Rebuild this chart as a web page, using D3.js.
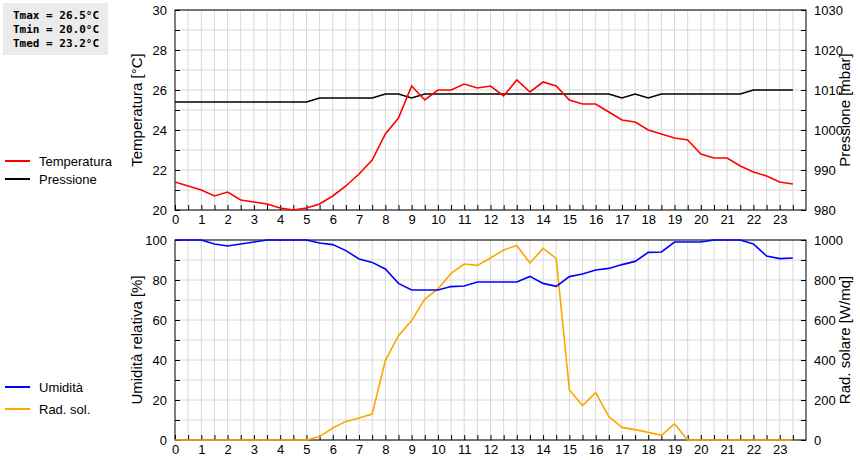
<!DOCTYPE html>
<html><head><meta charset="utf-8">
<script src="https://cdn.jsdelivr.net/npm/d3@7"></script>
<style>body{margin:0;background:#fff}svg{display:block}</style>
</head><body><svg id="c" width="860" height="460"></svg>
<script>
const hours = d3.range(0, 24, 0.5);
const temperatura = [21.4,21.2,21.0,20.7,20.9,20.5,20.4,20.3,20.1,20.0,20.1,20.3,20.7,21.2,21.8,22.5,23.8,24.6,26.2,25.5,26.0,26.0,26.3,26.1,26.2,25.7,26.5,25.9,26.4,26.2,25.5,25.3,25.3,24.9,24.5,24.4,24.0,23.8,23.6,23.5,22.8,22.6,22.6,22.2,21.9,21.7,21.4,21.3];
const pressione = [1007,1007,1007,1007,1007,1007,1007,1007,1007,1007,1007,1008,1008,1008,1008,1008,1009,1009,1008,1009,1009,1009,1009,1009,1009,1009,1009,1009,1009,1009,1009,1009,1009,1009,1008,1009,1008,1009,1009,1009,1009,1009,1009,1009,1010,1010,1010,1010];
const umidita = [100,100,100,98,97,98,99,100,100,100,100,98.5,97.7,94.7,90.5,88.8,85.5,78.3,75,75,75,76.7,77,79,79,79,79,81.8,78.3,76.8,81.7,83,85,85.8,87.7,89.3,93.8,94,99,99,99,100,100,100,98,92,90.7,91];
const radsol = [0,0,0,0,0,0,0,0,0,0,0,17,60,93,110,130,397,522,597,705,755,833,880,873,910,950,973,885,958,908,250,172,237,117,63,52,38,23,80,0,0,0,0,0,0,0,0,0];
const xTicks = d3.range(0, 24);
const statLines = ["Tmax = 26.5°C","Tmin = 20.0°C","Tmed = 23.2°C"];

const svg = d3.select("#c");
const L = 175, R = 806;
const x = d3.scaleLinear().domain([0, 24]).range([L, R]);
const font = "Arial, 'Liberation Sans', sans-serif";

function panel(top, bot, yl, yr, lTicks, rTicks, lMinor, rMinor, lTitle, rTitle, series) {
  const g = svg.append("g");
  g.selectAll(".vg").data(d3.range(0.5, 24, 0.5)).join("line")
    .attr("x1", d => x(d)).attr("x2", d => x(d)).attr("y1", top).attr("y2", bot)
    .attr("stroke", "#d8d8d8");
  g.selectAll(".hg").data(lMinor).join("line")
    .attr("x1", L).attr("x2", R).attr("y1", d => yl(d)).attr("y2", d => yl(d))
    .attr("stroke", "#d8d8d8");
  const ax = g.append("g").attr("transform", `translate(0,${bot})`)
    .call(d3.axisBottom(x).tickValues(d3.range(0, 24, 0.5)).tickSize(5).tickFormat(d => Number.isInteger(d) ? d : ""));
  const al = g.append("g").attr("transform", `translate(${L},0)`)
    .call(d3.axisLeft(yl).tickValues(lMinor).tickSize(5).tickFormat(d => lTicks.includes(d) ? d : ""));
  const ar = g.append("g").attr("transform", `translate(${R},0)`)
    .call(d3.axisRight(yr).tickValues(rMinor).tickSize(5).tickFormat(d => rTicks.includes(d) ? d : ""));
  [ax, al, ar].forEach(a => {
    a.selectAll("text").attr("font-family", font).attr("font-size", 13).attr("fill", "#000");
    a.select(".domain").remove();
  });
  ax.selectAll("line").attr("y2", -5);
  al.selectAll("line").attr("x2", 5);
  ar.selectAll("line").attr("x2", -5);
  ax.selectAll("text").attr("dy", "0.75em").attr("y", 4);
  g.append("rect").attr("x", L).attr("y", top).attr("width", R - L).attr("height", bot - top)
    .attr("fill", "none").attr("stroke", "#000");
  series.forEach(s => {
    g.append("path").datum(s.data)
      .attr("d", d3.line().x((d, i) => x(hours[i])).y(d => s.y(d)))
      .attr("fill", "none").attr("stroke", s.color).attr("stroke-width", 1.6);
  });
  const cy = (top + bot) / 2;
  g.append("text").attr("transform", `translate(142,${cy}) rotate(-90)`).attr("text-anchor", "middle")
    .attr("font-family", font).attr("font-size", 15).text(lTitle);
  g.append("text").attr("transform", `translate(850,${cy}) rotate(-90)`).attr("text-anchor", "middle")
    .attr("font-family", font).attr("font-size", 15).text(rTitle);
}

const yT = d3.scaleLinear().domain([20, 30]).range([210, 10]);
const yP = d3.scaleLinear().domain([980, 1030]).range([210, 10]);
panel(10, 210, yT, yP, d3.range(20, 31, 2), d3.range(980, 1031, 10), d3.range(20, 31, 1), d3.range(980, 1031, 5),
  "Temperatura [°C]", "Pressione [mbar]",
  [{data: pressione, y: yP, color: "#000"}, {data: temperatura, y: yT, color: "#f00"}]);

const yU = d3.scaleLinear().domain([0, 100]).range([440, 240]);
const yR = d3.scaleLinear().domain([0, 1000]).range([440, 240]);
panel(240, 440, yU, yR, d3.range(0, 101, 20), d3.range(0, 1001, 200), d3.range(0, 101, 10), d3.range(0, 1001, 100),
  "Umidità relativa [%]", "Rad. solare [W/mq]",
  [{data: radsol, y: yR, color: "#ffa500"}, {data: umidita, y: yU, color: "#00f"}]);

const legend = [["Temperatura", "#f00", 161], ["Pressione", "#000", 179], ["Umidità", "#00f", 387], ["Rad. sol.", "#ffa500", 409]];
legend.forEach(([t, c, y]) => {
  svg.append("line").attr("x1", 5).attr("x2", 30).attr("y1", y).attr("y2", y).attr("stroke", c).attr("stroke-width", 2);
  svg.append("text").attr("x", 39).attr("y", y + 4.5).attr("font-family", font).attr("font-size", 13).text(t);
});

svg.append("rect").attr("x", 3).attr("y", 3).attr("width", 105).attr("height", 52).attr("fill", "#ebebeb");
svg.selectAll(".st").data(statLines).join("text")
  .attr("x", 13).attr("y", (d, i) => 19 + i * 14)
  .attr("font-family", "'DejaVu Sans Mono', monospace").attr("font-weight", "bold").attr("font-size", 11)
  .text(d => d);
</script></body></html>
